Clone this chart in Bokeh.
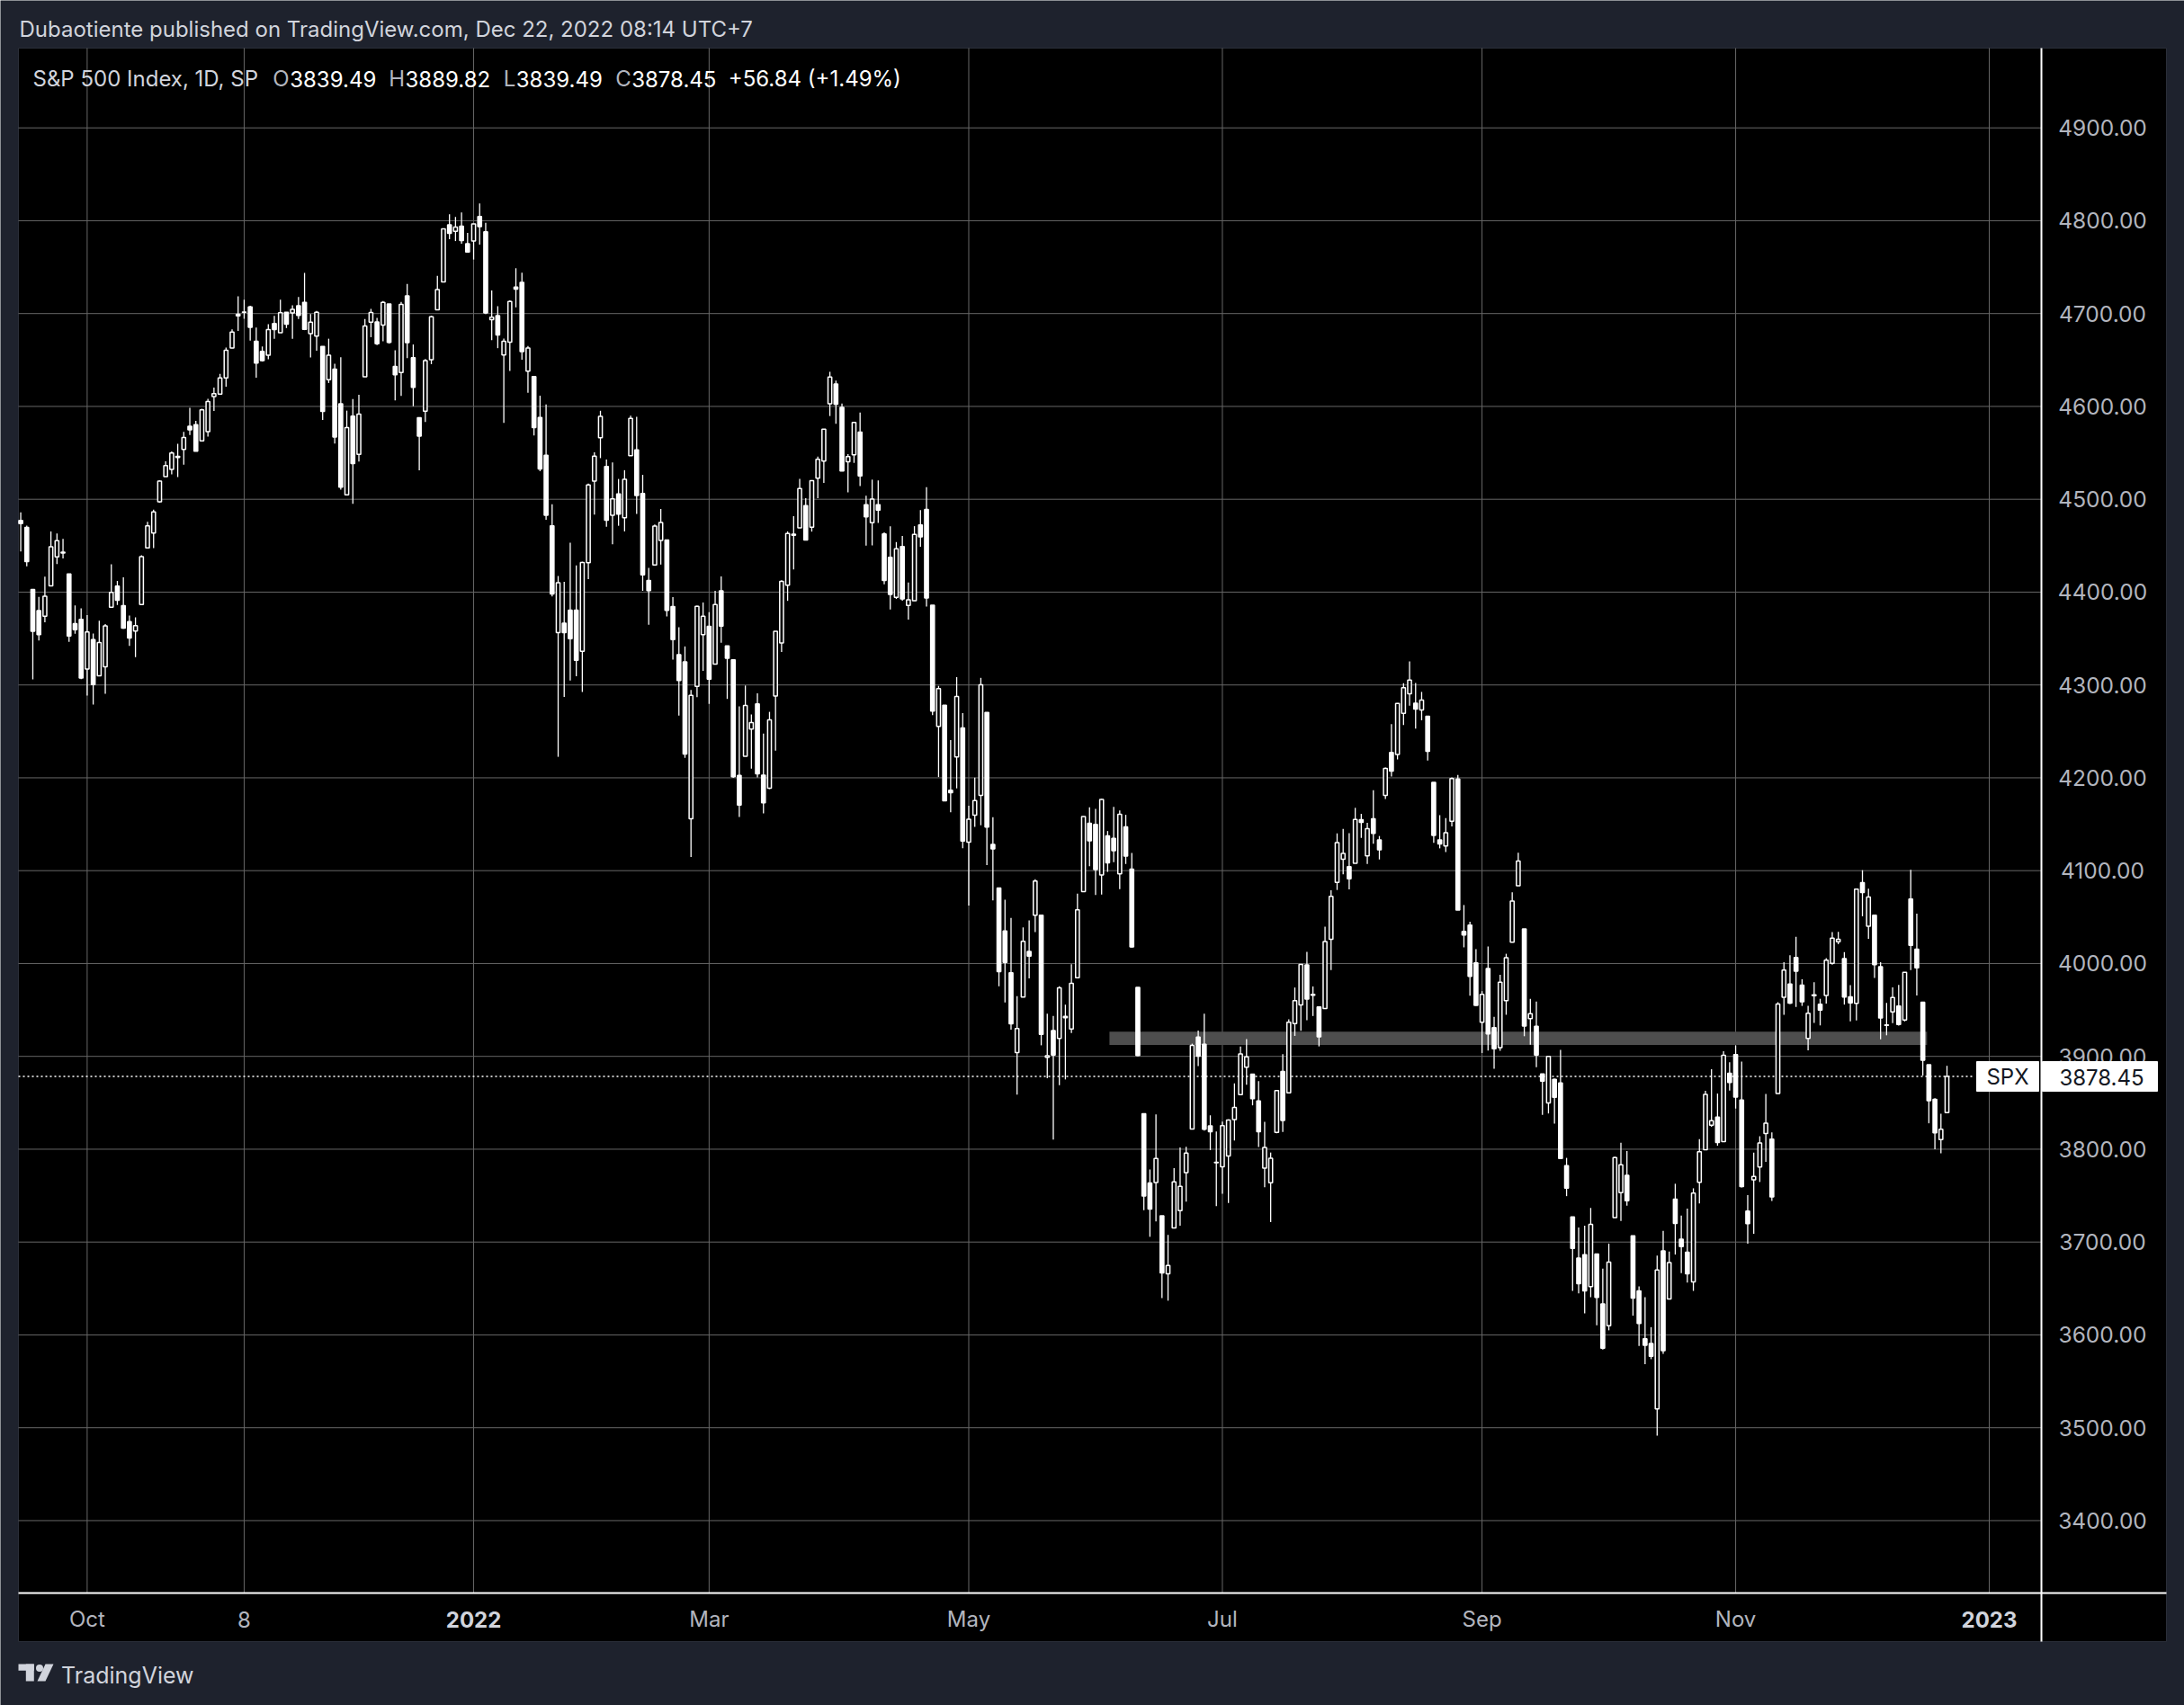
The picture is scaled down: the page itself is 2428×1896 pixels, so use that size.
import numpy as np
from bokeh.plotting import figure
from bokeh.models import Range1d, ColumnDataSource
from bokeh.core.properties import value
from bokeh.embed import file_html
from bokeh.resources import INLINE

# ---------------- DATA: S&P 500 daily candles, 2021-09-16 .. 2022-12-21 ----------------
open_ = [
    4477.09, 4469.74, 4402.95, 4380.00, 4374.00, 4406.75, 4438.04, 4442.12, 4419.54, 4366.00, 4370.67,  # Sep 21
    4317.16, 4348.84, 4309.87, 4319.57, 4383.73, 4406.51, 4385.44, 4368.31, 4358.01, 4386.75, 4447.69, 4463.72, 4497.34, 4524.42, 4532.24, 4546.12, 4553.69, 4578.69, 4580.22, 4562.84, 4572.87,  # Oct 21
    4610.62, 4613.34, 4630.65, 4662.93, 4699.26, 4701.48, 4707.25, 4670.26, 4659.39, 4655.24, 4689.30, 4679.42, 4701.50, 4700.72, 4708.44, 4712.00, 4678.48, 4675.78, 4664.63, 4628.75, 4640.25,  # Nov 21
    4602.82, 4504.73, 4589.49, 4548.37, 4631.97, 4690.86, 4691.00, 4687.64, 4710.30, 4642.99, 4636.46, 4719.13, 4652.50, 4587.90, 4594.96, 4650.36, 4703.96, 4733.99, 4795.49, 4788.64, 4794.23, 4775.21,  # Dec 21
    4778.14, 4804.51, 4787.99, 4693.39, 4697.66, 4655.34, 4669.14, 4728.59, 4733.56, 4637.99, 4632.24, 4588.03, 4547.35, 4471.38, 4356.32, 4366.64, 4380.58, 4380.58, 4336.19, 4431.79,  # Jan 22
    4519.57, 4566.39, 4535.41, 4482.79, 4505.75, 4480.02, 4547.00, 4553.24, 4506.27, 4412.61, 4429.28, 4455.75, 4456.06, 4384.57, 4332.74, 4324.93, 4155.77, 4298.38, 4354.17,  # Feb 22
    4363.14, 4322.56, 4401.31, 4342.12, 4327.01, 4202.66, 4223.10, 4252.55, 4279.50, 4202.75, 4188.82, 4288.14, 4345.11, 4407.34, 4462.40, 4469.10, 4493.10, 4469.98, 4522.66, 4541.09, 4602.86, 4624.20, 4599.02,  # Mar 22
    4540.32, 4547.97, 4572.45, 4494.17, 4474.65, 4494.15, 4462.64, 4437.59, 4394.30, 4449.12, 4385.63, 4390.63, 4472.26, 4489.17, 4385.83, 4255.34, 4278.14, 4186.52, 4222.58, 4253.75,  # Apr 22
    4130.61, 4159.78, 4181.18, 4270.43, 4128.17, 4081.27, 4035.18, 3990.08, 3903.95, 3963.90, 4013.02, 4052.00, 4051.98, 3899.00, 3927.76, 3919.42, 3942.94, 3929.59, 3984.60, 4077.43, 4151.09,  # May 22
    4149.78, 4095.41, 4137.57, 4134.72, 4096.47, 4147.12, 4101.65, 3974.39, 3838.15, 3763.52, 3764.05, 3728.18, 3665.90, 3715.31, 3733.89, 3774.71, 3821.75, 3920.76, 3913.00, 3825.09, 3785.99,  # Jun 22
    3781.00, 3792.61, 3831.98, 3858.85, 3888.26, 3880.94, 3851.95, 3779.67, 3763.99, 3818.00, 3883.79, 3860.73, 3935.32, 3955.47, 3998.43, 3965.72, 3953.22, 3951.43, 4026.13, 4087.33,  # Jul 22
    4112.38, 4104.21, 4107.96, 4154.85, 4115.87, 4155.93, 4133.11, 4181.02, 4227.40, 4225.02, 4269.37, 4290.46, 4280.40, 4273.13, 4266.31, 4195.08, 4133.09, 4126.55, 4153.26, 4198.74, 4034.58, 4041.25, 4000.67,  # Aug 22
    3936.73, 3994.66, 3930.89, 3909.43, 3959.94, 4022.94, 4083.67, 4037.12, 3940.73, 3932.41, 3880.95, 3849.91, 3875.23, 3871.40, 3782.36, 3727.14, 3682.72, 3686.44, 3651.94, 3687.01, 3633.48,  # Sep 22
    3609.78, 3726.46, 3753.25, 3771.97, 3706.74, 3647.51, 3595.86, 3590.83, 3520.37, 3690.41, 3638.65, 3746.26, 3703.11, 3689.05, 3657.10, 3764.45, 3799.44, 3825.97, 3834.69, 3808.26, 3881.85,  # Oct 22
    3901.79, 3852.90, 3733.25, 3766.98, 3780.71, 3817.02, 3810.94, 3859.89, 3963.72, 3977.97, 4006.41, 3976.82, 3919.26, 3966.39, 3956.23, 3965.51, 4000.30, 4023.34, 4005.36, 3964.19, 3957.18,  # Nov 22
    4087.14, 4040.17, 4052.02, 3996.63, 3933.28, 3947.79, 3954.17, 3939.29, 4069.38, 4015.54, 3958.37, 3890.91, 3853.79, 3810.47, 3839.49,  # Dec 22
]
high = [
    4485.87, 4471.52, 4402.95, 4394.87, 4416.75, 4465.40, 4463.12, 4457.30, 4419.54, 4385.57, 4382.55,
    4375.19, 4355.51, 4369.23, 4365.57, 4429.97, 4412.02, 4415.88, 4374.89, 4372.87, 4439.73, 4475.82, 4488.75, 4520.40, 4540.87, 4551.44, 4559.67, 4572.62, 4598.53, 4584.57, 4597.55, 4608.08,
    4620.34, 4635.15, 4663.46, 4683.00, 4718.50, 4714.92, 4708.53, 4684.85, 4664.55, 4688.47, 4697.42, 4714.95, 4701.50, 4708.80, 4717.75, 4743.83, 4699.39, 4702.87, 4664.63, 4672.95, 4646.02,
    4652.94, 4595.46, 4608.03, 4612.60, 4694.04, 4705.06, 4695.26, 4713.57, 4710.30, 4660.47, 4712.60, 4731.99, 4666.70, 4587.90, 4651.14, 4697.67, 4740.74, 4791.49, 4807.02, 4804.06, 4808.93, 4786.83,
    4796.64, 4818.62, 4797.70, 4725.01, 4707.95, 4673.02, 4714.13, 4748.83, 4744.13, 4665.13, 4632.24, 4611.55, 4602.11, 4494.52, 4417.35, 4411.01, 4453.23, 4428.74, 4432.72, 4516.89,
    4550.49, 4595.31, 4542.88, 4539.66, 4521.86, 4531.32, 4590.03, 4588.92, 4526.33, 4426.22, 4472.77, 4489.55, 4456.06, 4394.60, 4362.12, 4341.51, 4294.73, 4385.34, 4388.84,
    4378.45, 4401.48, 4416.78, 4342.12, 4327.01, 4276.94, 4299.40, 4268.28, 4291.01, 4247.57, 4271.05, 4357.86, 4412.67, 4465.40, 4481.75, 4522.00, 4501.07, 4520.58, 4546.03, 4575.65, 4637.30, 4627.77, 4603.07,
    4548.70, 4583.50, 4593.45, 4503.94, 4521.16, 4520.41, 4464.35, 4471.00, 4453.92, 4460.46, 4410.31, 4471.03, 4488.29, 4512.94, 4385.83, 4299.02, 4278.14, 4240.71, 4308.45, 4269.68,
    4169.81, 4200.10, 4307.66, 4270.43, 4157.69, 4081.27, 4068.82, 4049.09, 3964.80, 4038.88, 4046.46, 4090.72, 4051.98, 3945.96, 3943.42, 3975.45, 3955.68, 3999.33, 4075.14, 4158.49, 4168.34,
    4166.54, 4177.51, 4142.67, 4168.78, 4164.86, 4160.14, 4119.10, 3974.39, 3838.15, 3778.18, 3837.56, 3728.18, 3707.71, 3779.65, 3801.79, 3802.58, 3913.65, 3927.72, 3945.86, 3836.50, 3818.99,
    3829.82, 3832.19, 3870.91, 3910.63, 3918.50, 3880.94, 3873.41, 3829.44, 3796.41, 3863.62, 3902.44, 3939.81, 3974.13, 3999.29, 4012.44, 3975.30, 3953.22, 4039.56, 4078.95, 4140.15,
    4144.95, 4140.47, 4167.66, 4161.29, 4151.58, 4186.62, 4137.30, 4211.03, 4257.91, 4280.47, 4301.79, 4325.28, 4302.18, 4292.53, 4266.31, 4195.08, 4159.77, 4156.56, 4200.54, 4203.04, 4062.99, 4044.98, 4015.37,
    3970.23, 4018.43, 3942.55, 3987.89, 4010.50, 4076.81, 4119.28, 4037.12, 3961.94, 3959.14, 3880.95, 3900.45, 3876.01, 3907.07, 3790.68, 3727.14, 3715.67, 3717.53, 3736.74, 3687.01, 3671.44,
    3698.35, 3791.92, 3806.91, 3797.93, 3706.74, 3652.17, 3640.66, 3608.34, 3685.41, 3712.00, 3689.73, 3762.79, 3728.58, 3736.00, 3757.89, 3810.74, 3862.85, 3886.15, 3859.95, 3905.42, 3893.73,
    3911.79, 3894.44, 3750.59, 3796.34, 3813.95, 3859.40, 3818.20, 3958.33, 4001.48, 4008.97, 4028.84, 3983.09, 3954.33, 3979.89, 3962.00, 4005.88, 4033.78, 4034.02, 4012.27, 3976.77, 4080.11,
    4100.51, 4080.48, 4052.45, 4001.51, 3957.57, 3974.19, 3977.02, 3990.71, 4100.96, 4053.76, 3958.37, 3890.91, 3854.86, 3838.24, 3889.82,
]
low = [
    4443.80, 4427.76, 4305.91, 4347.96, 4367.43, 4406.75, 4430.27, 4436.19, 4346.33, 4355.08, 4306.24,
    4288.52, 4278.94, 4309.87, 4290.49, 4383.73, 4386.22, 4360.59, 4342.09, 4329.92, 4386.75, 4447.69, 4447.47, 4496.41, 4524.40, 4526.89, 4524.00, 4537.36, 4569.17, 4551.66, 4562.84, 4567.59,
    4595.06, 4613.34, 4621.19, 4662.59, 4681.32, 4694.39, 4670.87, 4630.86, 4648.31, 4650.77, 4672.86, 4679.42, 4684.41, 4672.78, 4694.22, 4682.17, 4652.66, 4659.89, 4585.43, 4625.26, 4560.00,
    4510.27, 4504.73, 4495.12, 4540.51, 4631.97, 4674.52, 4665.98, 4670.24, 4667.60, 4606.52, 4611.22, 4651.89, 4600.22, 4531.10, 4583.16, 4645.53, 4703.96, 4733.99, 4780.04, 4778.08, 4775.33, 4765.75,
    4758.17, 4774.27, 4699.44, 4671.26, 4662.74, 4582.24, 4638.27, 4706.71, 4650.29, 4614.75, 4568.70, 4530.20, 4477.95, 4395.34, 4222.62, 4287.11, 4304.80, 4309.50, 4292.46, 4414.02,
    4483.53, 4544.32, 4470.39, 4451.50, 4471.47, 4465.40, 4547.00, 4484.31, 4401.41, 4364.84, 4429.28, 4429.68, 4373.81, 4327.22, 4267.11, 4221.51, 4114.65, 4286.83, 4315.12,
    4279.54, 4322.56, 4345.56, 4284.98, 4199.85, 4157.87, 4223.10, 4209.80, 4200.49, 4161.72, 4187.90, 4229.34, 4335.65, 4390.57, 4424.30, 4469.10, 4455.81, 4465.17, 4501.07, 4517.69, 4589.66, 4581.32, 4530.41,
    4507.57, 4539.21, 4514.17, 4450.04, 4450.30, 4474.60, 4408.38, 4381.34, 4392.70, 4390.77, 4370.30, 4390.63, 4448.76, 4384.47, 4267.62, 4200.82, 4175.04, 4162.90, 4188.63, 4124.28,
    4062.51, 4147.08, 4148.91, 4106.01, 4067.91, 3975.48, 3958.17, 3928.82, 3858.87, 3963.90, 3983.99, 4033.93, 3911.91, 3876.58, 3810.32, 3868.91, 3875.13, 3925.03, 3984.60, 4077.43, 4104.88,
    4073.85, 4074.37, 4098.67, 4109.18, 4080.19, 4107.20, 4017.17, 3900.16, 3734.30, 3705.68, 3722.30, 3639.77, 3636.87, 3715.31, 3717.69, 3743.52, 3821.75, 3889.66, 3820.14, 3799.02, 3738.67,
    3752.10, 3742.06, 3809.37, 3858.85, 3869.34, 3847.22, 3802.36, 3759.07, 3721.56, 3817.18, 3818.63, 3860.73, 3922.03, 3927.64, 3938.85, 3943.46, 3910.74, 3951.43, 3992.97, 4079.22,
    4096.02, 4079.81, 4107.96, 4135.42, 4107.31, 4128.97, 4112.09, 4177.26, 4201.41, 4219.78, 4256.90, 4277.77, 4253.08, 4261.98, 4218.70, 4129.86, 4124.03, 4119.97, 4147.59, 4057.66, 4017.42, 3965.21, 3954.53,
    3903.65, 3906.21, 3886.75, 3906.03, 3944.81, 4022.94, 4083.67, 3921.69, 3912.54, 3888.28, 3837.08, 3838.50, 3827.54, 3789.49, 3749.45, 3647.47, 3644.76, 3623.29, 3640.61, 3610.40, 3584.13,
    3604.93, 3726.46, 3722.66, 3739.22, 3620.73, 3588.10, 3568.45, 3573.86, 3491.58, 3579.68, 3638.65, 3686.53, 3666.51, 3656.44, 3647.42, 3741.65, 3799.44, 3824.07, 3803.79, 3808.26, 3863.18,
    3843.80, 3758.68, 3698.15, 3708.84, 3764.70, 3786.28, 3744.22, 3859.89, 3944.82, 3956.40, 3953.17, 3954.34, 3906.54, 3935.98, 3933.34, 3956.88, 3998.66, 4020.76, 3955.77, 3937.65, 3938.58,
    4050.87, 4026.63, 3984.49, 3918.39, 3922.68, 3935.83, 3933.04, 3937.65, 3993.03, 3965.65, 3879.45, 3827.91, 3800.04, 3795.62, 3839.49,
]
close = [
    4473.75, 4432.99, 4357.73, 4354.19, 4395.64, 4448.98, 4455.48, 4443.11, 4352.63, 4359.46, 4307.54,
    4357.04, 4300.46, 4345.72, 4363.55, 4399.76, 4391.34, 4361.19, 4350.65, 4363.80, 4438.26, 4471.37, 4486.46, 4519.63, 4536.19, 4549.78, 4544.90, 4566.48, 4574.79, 4551.68, 4596.42, 4605.38,
    4613.67, 4630.65, 4660.57, 4680.06, 4697.53, 4701.70, 4685.25, 4646.71, 4649.27, 4682.85, 4682.80, 4700.90, 4688.67, 4704.54, 4697.96, 4682.94, 4690.70, 4701.46, 4594.62, 4655.27, 4567.00,
    4513.04, 4577.10, 4538.43, 4591.67, 4686.75, 4701.21, 4667.45, 4712.02, 4668.97, 4634.09, 4709.85, 4668.67, 4620.64, 4568.02, 4649.23, 4696.56, 4725.79, 4791.19, 4786.35, 4793.06, 4778.73, 4766.18,
    4796.56, 4793.54, 4700.58, 4696.05, 4677.03, 4670.29, 4713.07, 4726.35, 4659.03, 4662.85, 4577.11, 4532.76, 4482.73, 4397.94, 4410.13, 4356.45, 4349.93, 4326.51, 4431.85, 4515.55,
    4546.54, 4589.38, 4477.44, 4500.53, 4483.87, 4521.54, 4587.18, 4504.08, 4418.64, 4401.67, 4471.07, 4475.01, 4380.26, 4348.87, 4304.76, 4225.50, 4288.70, 4384.65, 4373.94,
    4306.26, 4386.54, 4363.49, 4328.87, 4201.09, 4170.70, 4277.88, 4259.52, 4204.31, 4173.11, 4262.45, 4357.86, 4411.67, 4463.12, 4461.18, 4511.61, 4456.24, 4520.16, 4543.06, 4575.52, 4631.60, 4602.45, 4530.41,
    4545.86, 4582.64, 4525.12, 4481.15, 4500.21, 4488.28, 4412.53, 4397.45, 4446.59, 4392.59, 4391.69, 4462.21, 4459.45, 4393.66, 4271.78, 4296.12, 4175.20, 4183.96, 4287.50, 4131.93,
    4155.38, 4175.48, 4300.17, 4146.87, 4123.34, 3991.24, 4001.05, 3935.18, 3930.08, 4023.89, 4008.01, 4088.85, 3923.68, 3900.79, 3901.36, 3973.75, 3941.48, 3978.73, 4057.84, 4158.24, 4132.15,
    4101.23, 4176.82, 4108.54, 4121.43, 4160.68, 4115.77, 4017.82, 3900.86, 3749.63, 3735.48, 3789.99, 3666.77, 3674.84, 3764.79, 3759.89, 3795.73, 3911.74, 3900.11, 3821.55, 3818.83, 3785.38,
    3825.33, 3831.39, 3845.08, 3902.62, 3899.38, 3854.43, 3818.80, 3801.78, 3790.38, 3863.16, 3830.85, 3936.69, 3959.90, 3998.95, 3961.63, 3966.84, 3921.05, 4023.61, 4072.43, 4130.29,
    4118.63, 4091.19, 4155.17, 4151.94, 4145.19, 4140.06, 4122.47, 4210.24, 4207.27, 4280.15, 4297.14, 4305.20, 4274.04, 4283.74, 4228.48, 4137.99, 4128.73, 4140.77, 4199.12, 4057.66, 4030.61, 3986.16, 3955.00,
    3966.85, 3924.26, 3908.19, 3979.87, 4006.18, 4067.36, 4110.41, 3932.69, 3946.01, 3901.35, 3873.33, 3899.89, 3855.93, 3789.93, 3757.99, 3693.23, 3655.04, 3647.29, 3719.04, 3640.47, 3585.62,
    3678.43, 3790.93, 3783.28, 3744.52, 3639.66, 3612.39, 3588.84, 3577.03, 3669.91, 3583.07, 3677.95, 3719.98, 3695.16, 3665.78, 3752.75, 3797.34, 3859.11, 3830.60, 3807.30, 3901.06, 3871.98,
    3856.10, 3759.69, 3719.89, 3770.55, 3806.80, 3828.11, 3748.57, 3956.37, 3992.93, 3957.25, 3991.73, 3958.79, 3946.56, 3965.34, 3949.94, 4003.58, 4027.26, 4026.12, 3963.94, 3957.63, 4080.11,
    4076.57, 4071.70, 3998.84, 3941.26, 3933.92, 3963.51, 3934.38, 3990.56, 4019.65, 3995.32, 3895.75, 3852.36, 3817.66, 3821.62, 3878.45,
]

time_tick_idx = [11, 37, 75, 114, 157, 199, 242, 284, 326]
time_tick_labels = ["Oct", "8", "2022", "Mar", "May", "Jul", "Sep", "Nov", "2023"]
time_tick_bold = [False, False, True, False, False, False, False, False, True]
price_ticks = [3400, 3500, 3600, 3700, 3800, 3900, 4000, 4100, 4200, 4300, 4400, 4500, 4600, 4700, 4800, 4900]
price_tick_labels = ["3400.00", "3500.00", "3600.00", "3700.00", "3800.00", "3900.00", "4000.00", "4100.00",
                     "4200.00", "4300.00", "4400.00", "4500.00", "4600.00", "4700.00", "4800.00", "4900.00"]
last_price = 3878.45
last_price_label = "3878.45"
zone_start_idx, zone_end_idx = 180.3, 315.7
zone_low, zone_high = 3912.3, 3926.6

title_text = "Dubaotiente published on TradingView.com, Dec 22, 2022 08:14 UTC+7"
legend_name = "S&P 500 Index, 1D, SP"
legend_letters = ["O", "H", "L", "C"]
legend_values = ["3839.49", "3889.82", "3839.49", "3878.45"]
legend_change = "+56.84 (+1.49%)"

# ---------------- pixel <-> data mapping (reference pixel coordinates) ----------------
W, H = 2428, 1896
M = 0
X0_PX, PX_PER_BAR = 22.557, 6.713
Y_REF_PX, Y_REF_VAL, PX_PER_PT = 141.7, 4900.0, 1.0325


def X(px):
    return (px - X0_PX) / PX_PER_BAR


def Y(py):
    return Y_REF_VAL - (py - Y_REF_PX) / PX_PER_PT


FONT = value("Inter")
BG = "#1e222d"
GRID = "#676767"
AXIS_TXT = "#b2b5be"

p = figure(width=W, height=H, output_backend="svg", toolbar_location=None,
           x_range=Range1d(X(M), X(M + W)), y_range=Range1d(Y(M + H), Y(M)),
           x_axis_location=None, y_axis_location=None, min_border=0,
           background_fill_color=BG, border_fill_color=BG, outline_line_color=None)
p.grid.grid_line_color = None

# black chart panel
p.quad(left=[X(20)], right=[X(2408)], top=[Y(53)], bottom=[Y(1825)],
       fill_color="#000000", line_color="#2a2e39", line_width=1)

# grid
chart_left, chart_right = X(20), X(2269)
chart_top, chart_bottom = Y(53), Y(1771)
p.segment(x0=[chart_left] * len(price_ticks), x1=[chart_right] * len(price_ticks),
          y0=price_ticks, y1=price_ticks, line_color=GRID, line_width=1)
p.segment(x0=time_tick_idx, x1=time_tick_idx, y0=[chart_bottom] * len(time_tick_idx),
          y1=[chart_top] * len(time_tick_idx), line_color=GRID, line_width=1)

# grey zone
p.quad(left=[zone_start_idx], right=[zone_end_idx], bottom=[zone_low], top=[zone_high],
       fill_color="#4e4e4e", line_color=None)

# last price dotted line
p.segment(x0=[chart_left], x1=[X(2194)], y0=[last_price], y1=[last_price],
          line_color="#ffffff", line_width=1.6, line_dash="2 3")

# candles
idx = np.arange(len(close))
o, h, l, c = map(np.array, (open_, high, low, close))
up = c >= o
p.segment(x0=idx, x1=idx, y0=h, y1=l, line_color="#ffffff", line_width=1.3)
src_up = ColumnDataSource(dict(x=idx[up], top=c[up], bottom=o[up]))
src_dn = ColumnDataSource(dict(x=idx[~up], top=o[~up], bottom=c[~up]))
p.vbar(x="x", top="top", bottom="bottom", width=0.62, source=src_dn,
       fill_color="#ffffff", line_color="#ffffff", line_width=1.5)
p.vbar(x="x", top="top", bottom="bottom", width=0.62, source=src_up,
       fill_color="#000000", line_color="#ffffff", line_width=1.5)

# axis separators
p.segment(x0=[X(2269)], x1=[X(2269)], y0=[Y(53)], y1=[Y(1825)], line_color="#ffffff", line_width=2)
p.segment(x0=[X(20)], x1=[X(2408)], y0=[Y(1771)], y1=[Y(1771)], line_color="#ffffff", line_width=2)

# price axis labels
p.text(x=[X(2337)] * len(price_ticks), y=price_ticks, text=price_tick_labels,
       text_font=FONT, text_font_size="24.5px", text_color=AXIS_TXT,
       text_align="center", text_baseline="middle")

# time axis labels
for i, lab, b in zip(time_tick_idx, time_tick_labels, time_tick_bold):
    p.text(x=[i], y=[Y(1800)], text=[lab], text_font=FONT, text_font_size="24px",
           text_font_style="bold" if b else "normal",
           text_color="#d1d4dc" if b else AXIS_TXT, text_align="center", text_baseline="middle")

# last price tags
p.quad(left=[X(2197)], right=[X(2266)], top=[Y(1180)], bottom=[Y(1213)],
       fill_color="#ffffff", line_color="#ffffff")
p.quad(left=[X(2270)], right=[X(2398)], top=[Y(1180)], bottom=[Y(1213)],
       fill_color="#ffffff", line_color="#ffffff")
p.text(x=[X(2231.5)], y=[Y(1197)], text=["SPX"], text_font=FONT, text_font_size="24px",
       text_color="#131722", text_align="center", text_baseline="middle")
p.text(x=[X(2336)], y=[Y(1197)], text=[last_price_label], text_font=FONT, text_font_size="24px",
       text_color="#131722", text_align="center", text_baseline="middle")

# title
p.text(x=[X(21)], y=[Y(32)], text=[title_text], text_font=FONT, text_font_size="24px",
       text_color="#d1d4dc", text_align="left", text_baseline="middle")

# legend line
LEG_Y = Y(87)
p.text(x=[X(36)], y=[LEG_Y], text=[legend_name], text_font=FONT, text_font_size="24px",
       text_color="#d1d4dc", text_align="left", text_baseline="middle")
value_px = [321.7, 450.0, 573.3, 701.7]
for letter, val, px in zip(legend_letters, legend_values, value_px):
    p.text(x=[X(px - 0.5)], y=[LEG_Y], text=[letter], text_font=FONT, text_font_size="24px",
           text_color="#b2b5be", text_align="right", text_baseline="middle")
    p.text(x=[X(px)], y=[LEG_Y], text=[val], text_font=FONT, text_font_size="24px",
           text_color="#ffffff", text_align="left", text_baseline="middle")
p.text(x=[X(809.3)], y=[LEG_Y], text=[legend_change], text_font=FONT, text_font_size="24px",
       text_color="#ffffff", text_align="left", text_baseline="middle")

# footer logo + text
LOGO = "#d1d4dc"
p.quad(left=[X(20)], right=[X(37.3)], top=[Y(1850)], bottom=[Y(1857.3)], fill_color=LOGO, line_color=None)
p.quad(left=[X(28.3)], right=[X(37.3)], top=[Y(1850)], bottom=[Y(1869)], fill_color=LOGO, line_color=None)
p.ellipse(x=[X(43.5)], y=[Y(1854.5)], width=[8 / PX_PER_BAR], height=[8 / PX_PER_PT],
          fill_color=LOGO, line_color=None)
p.patch(x=[X(50), X(59), X(50), X(41)], y=[Y(1850), Y(1850), Y(1869), Y(1869)],
        fill_color=LOGO, line_color=None)
p.text(x=[X(67.5)], y=[Y(1862)], text=["TradingView"], text_font=FONT, text_font_size="25px",
       text_color=LOGO, text_align="left", text_baseline="middle")

open("out.html", "w").write(file_html(p, INLINE))
